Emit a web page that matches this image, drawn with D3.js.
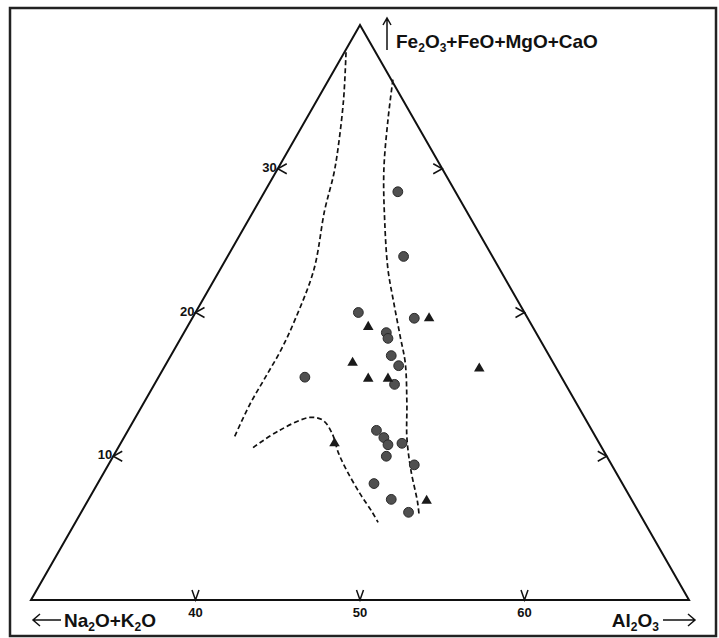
<!DOCTYPE html>
<html>
<head>
<meta charset="utf-8">
<script src="https://cdn.jsdelivr.net/npm/d3@7/dist/d3.min.js"></script>
<style>
  body { margin: 0; background: #fff; }
  text { font-family: "Liberation Sans Narrow", "Liberation Sans", Arial, sans-serif; font-weight: bold; fill: #111; }
</style>
</head>
<body>
<div id="chart"></div>
<script>
// values: Al2O3 % and Fe2O3+FeO+MgO+CaO %
const circleAl  = [38.1, 40.7, 39.9, 43.5, 42.3, 42.6, 43.4, 44.2, 38.9, 44.6, 45.1, 45.8, 46.3, 47.1, 46.6, 48.6, 46.8, 48.4, 49.9];
const circleFmc = [28.4, 23.9, 20.0, 19.6, 18.6, 18.2, 17.0, 16.3, 15.5, 15.0, 11.8, 11.3, 10.8, 10.9, 10.0, 9.4, 8.1, 7.0, 6.1];

const triAl  = [41.0, 44.4, 41.3, 42.8, 44.0, 49.2, 43.0, 50.6];
const triFmc = [19.0, 19.6, 16.5, 15.4, 15.4, 16.1, 10.9, 6.9];

// dashed boundary lines
const leftLineAl  = [30.1, 31.6, 33.0, 33.6, 34.3, 35.7, 36.3, 36.5, 36.5, 36.5, 36.7];
const leftLineFmc = [38.1, 34.8, 31.3, 29.6, 27.1, 23.0, 19.5, 17.4, 15.4, 13.6, 11.3];

const midLineAl  = [33.9, 35.0, 36.5, 38.3, 40.2, 41.7, 43.3, 44.5, 46.0, 47.2, 48.6, 50.1, 50.7];
const midLineFmc = [36.2, 33.4, 29.9, 26.4, 23.0, 20.7, 18.3, 16.5, 13.7, 11.3, 9.0, 6.8, 5.8];

const lowLineAl  = [38.2, 39.2, 40.6, 41.5, 42.5, 43.6, 44.7, 46.3, 47.7, 48.4];
const lowLineFmc = [10.6, 11.8, 12.7, 12.5, 11.6, 10.2, 9.0, 7.4, 6.1, 5.4];

const bottomTicks = [40, 50, 60];
const sideTicks = [10, 20, 30];

const width = 719, height = 638;

const svg = d3.select("#chart")
    .append("svg")
        .attr("width", width)
        .attr("height", height);

// frame
svg.append("rect")
    .attr("x", 10)
    .attr("y", 8)
    .attr("width", 706)
    .attr("height", 628)
    .attr("fill", "none")
    .attr("stroke", "#222")
    .attr("stroke-width", 2.5);

// bottom axis runs Al2O3 30..70, apex is 40% Fe2O3+FeO+MgO+CaO
const xScale = d3.scaleLinear().domain([30, 70]).range([31, 689]);
const yScale = d3.scaleLinear().domain([0, 40]).range([600, 25]);
const proj = (al, fmc) => [xScale(al + fmc / 2), yScale(fmc)];

const corners = [proj(30, 0), proj(70, 0), proj(30, 40)];
svg.append("path")
    .attr("d", "M" + corners.join("L") + "Z")
    .attr("fill", "none")
    .attr("stroke", "#111")
    .attr("stroke-width", 2)
    .attr("stroke-linejoin", "miter");

// ticks
const tickG = svg.append("g")
    .attr("fill", "none")
    .attr("stroke", "#111")
    .attr("stroke-width", 1.5);

bottomTicks.forEach(v => {
    const [x, y] = proj(v, 0);
    tickG.append("path").attr("d", `M${x - 3.5},${y - 10}L${x},${y}L${x + 3.5},${y - 10}`);
    svg.append("text")
        .attr("x", x)
        .attr("y", y + 17)
        .attr("text-anchor", "middle")
        .attr("font-size", 13)
        .text(v);
});

sideTicks.forEach(v => {
    const [lx, ly] = proj(30, v);
    tickG.append("path").attr("d", `M${lx + 9},${ly - 5}L${lx},${ly}L${lx + 9},${ly + 5}`);
    svg.append("text")
        .attr("x", lx - 1)
        .attr("y", ly + 3)
        .attr("text-anchor", "end")
        .attr("font-size", 13)
        .text(v);

    const [rx, ry] = proj(70 - v, v);
    tickG.append("path").attr("d", `M${rx - 9},${ry - 5}L${rx},${ry}L${rx - 9},${ry + 5}`);
});

// dashed lines
const line = d3.line()
    .x(d => proj(d[0], d[1])[0])
    .y(d => proj(d[0], d[1])[1])
    .curve(d3.curveCatmullRom);

[[leftLineAl, leftLineFmc], [midLineAl, midLineFmc], [lowLineAl, lowLineFmc]].forEach(([a, f]) => {
    svg.append("path")
        .datum(d3.zip(a, f))
        .attr("d", line)
        .attr("fill", "none")
        .attr("stroke", "#111")
        .attr("stroke-width", 1.7)
        .attr("stroke-dasharray", "5,3");
});

// circles
svg.append("g")
    .selectAll("circle")
    .data(d3.zip(circleAl, circleFmc))
    .enter()
    .append("circle")
        .attr("cx", d => proj(d[0], d[1])[0])
        .attr("cy", d => proj(d[0], d[1])[1])
        .attr("r", 4.9)
        .attr("fill", "#505050")
        .attr("stroke", "#2a2a2a")
        .attr("stroke-width", 1);

// triangles
svg.append("g")
    .selectAll("path")
    .data(d3.zip(triAl, triFmc))
    .enter()
    .append("path")
        .attr("transform", d => "translate(" + proj(d[0], d[1]) + ")")
        .attr("d", d3.symbol(d3.symbolTriangle, 48))
        .attr("fill", "#1a1a1a");

// axis names with arrows
const arrowG = svg.append("g")
    .attr("fill", "none")
    .attr("stroke", "#111")
    .attr("stroke-width", 1.5);

arrowG.append("path").attr("d", "M387,50L387,18M383,25L387,18L391,25");
svg.append("text")
    .attr("x", 396)
    .attr("y", 48)
    .attr("font-size", 19)
    .html('Fe<tspan dy="4" font-size="12">2</tspan><tspan dy="-4">O</tspan><tspan dy="4" font-size="12">3</tspan><tspan dy="-4">+FeO+MgO+CaO</tspan>');

arrowG.append("path").attr("d", "M33,620L61,620M40,614L33,620L40,626");
svg.append("text")
    .attr("x", 64)
    .attr("y", 627)
    .attr("font-size", 19)
    .html('Na<tspan dy="4" font-size="12">2</tspan><tspan dy="-4">O+K</tspan><tspan dy="4" font-size="12">2</tspan><tspan dy="-4">O</tspan>');

arrowG.append("path").attr("d", "M663,620L695,620M688,614L695,620L688,626");
svg.append("text")
    .attr("x", 659)
    .attr("y", 627)
    .attr("text-anchor", "end")
    .attr("font-size", 19)
    .html('Al<tspan dy="4" font-size="12">2</tspan><tspan dy="-4">O</tspan><tspan dy="4" font-size="12">3</tspan>');
</script>
</body>
</html>
